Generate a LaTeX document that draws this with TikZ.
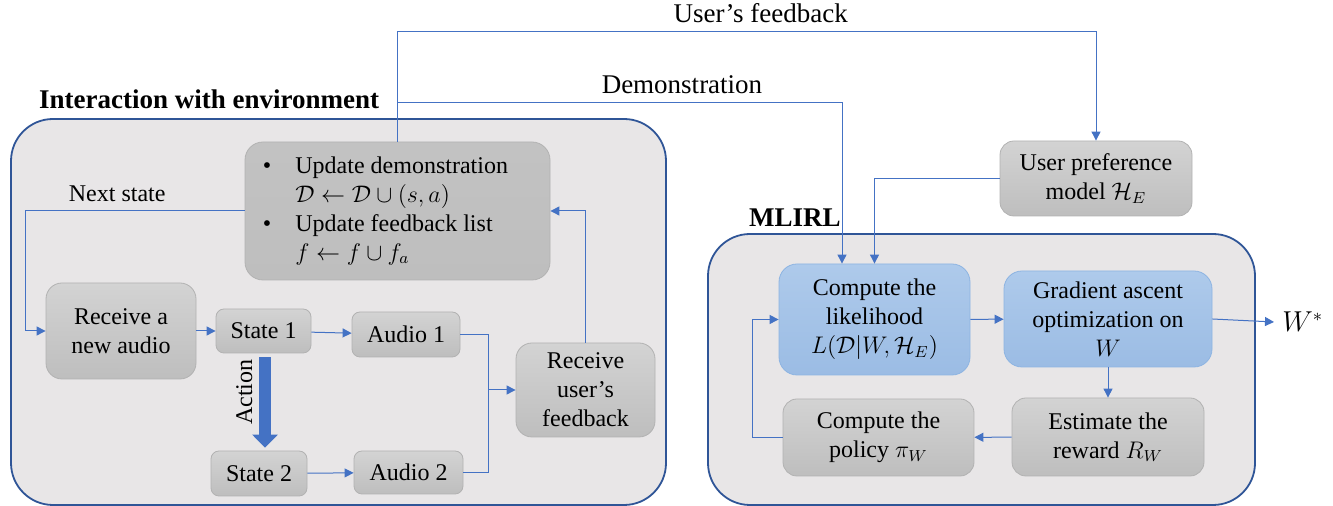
\documentclass[tikz,border=0pt]{standalone}
\usepackage{fontspec}
\setmainfont{Liberation Serif}
\usetikzlibrary{arrows.meta}
\definecolor{linkblue}{HTML}{4472C4}
\definecolor{frameblue}{HTML}{2F5597}
\definecolor{framefill}{HTML}{E8E6E7}
\definecolor{graytop}{HTML}{D3D3D3}
\definecolor{graybot}{HTML}{BEBEBE}
\definecolor{grayedge}{HTML}{B2B2B2}
\definecolor{bluetop}{HTML}{AECAEB}
\definecolor{bluebot}{HTML}{9BBCE4}
\definecolor{blueedge}{HTML}{8DB4E2}
\begin{document}
\begin{tikzpicture}[x=0.5pt,y=-0.5pt,
  every node/.style={font=\fontsize{12}{14.5}\selectfont},
  region/.style={draw=frameblue,fill=framefill,line width=0.9pt,rounded corners=21pt},
  graybox/.style={draw=grayedge,top color=graytop,bottom color=graybot,rounded corners=5pt,align=center,inner sep=1pt},
  bluebox/.style={graybox,draw=blueedge,top color=bluetop,bottom color=bluebot},
  link/.style={draw=linkblue,line width=0.5pt,-{Triangle[width=4.5pt,length=4.5pt]}},
  wire/.style={draw=linkblue,line width=0.5pt},
  action/.style={draw=linkblue,line width=6pt,-{Triangle[width=12.5pt,length=6.5pt]}},
  lbl/.style={font=\fontsize{13.5}{16}\selectfont},
  ttl/.style={font=\fontsize{13.5}{16}\selectfont\bfseries}]
\useasboundingbox (0,0) rectangle (1333,506);

% the two frames
\draw[region] (11,119) rectangle (666,505);
\draw[region] (708,234) rectangle (1255,505);
\node[ttl,anchor=base west] (envtitle) at (32,109) {Interaction with environment};
\node[ttl,anchor=base west] (mltitle) at (742,227) {MLIRL};

% interaction with environment
\node[graybox,minimum width=152.5pt,minimum height=69pt,rounded corners=9pt,top color=graytop!92!black,bottom color=graybot] (upd) at (397.5,211)
  {\begin{tabular}{@{}l@{\hspace{12pt}}l@{\hspace{12pt}}}
   \textbullet & Update demonstration\\
   & $\mathcal{D}\leftarrow\mathcal{D}\cup(s,a)$\\
   \textbullet & Update feedback list\\
   & $f\leftarrow f\cup f_a$
   \end{tabular}};
\node[graybox,minimum width=75pt,minimum height=48pt,rounded corners=8pt] (recv) at (121,331) {Receive a\\ new audio};
\node[graybox,minimum width=47.5pt,minimum height=22pt,rounded corners=4pt] (s1) at (263.5,331) {State 1};
\node[graybox,minimum width=54pt,minimum height=22.5pt,rounded corners=4pt] (a1) at (406,334.5) {Audio 1};
\node[graybox,minimum width=48pt,minimum height=22.5pt,rounded corners=4pt] (s2) at (259,473.5) {State 2};
\node[graybox,minimum width=54.5pt,minimum height=21.5pt,rounded corners=4pt] (a2) at (408.5,472.5) {Audio 2};
\node[graybox,minimum width=69.5pt,minimum height=47pt,rounded corners=8pt] (fb) at (585.5,390) {Receive\\ user's\\ feedback};
\coordinate (merge) at (488,390);

\draw[link] (upd.west) -- node[pos=0.58,above=1pt] {Next state} (25,211) |- (recv.west);
\draw[link] (recv) -- (s1);
\draw[link] (s1) -- (a1);
\draw[link] (s2) -- (a2);
\draw[wire] (a1.east) -| (merge);
\draw[wire] (a2.east) -| (merge);
\draw[link] (merge) -- (fb.west);
\draw[link] (fb.north) |- (upd.east);
\draw[action,shorten <=2pt,shorten >=1.5pt] ([xshift=0.75pt]s1.south) -- node[midway,above=5pt,rotate=90] {Action} ([xshift=0.75pt]s1.south |- s2.north);

% MLIRL
\node[graybox,minimum width=96pt,minimum height=37.5pt,rounded corners=7pt] (pref) at (1096,178.5) {User preference\\ model $\mathcal{H}_E$};
\node[bluebox,minimum width=95.5pt,minimum height=55.5pt,rounded corners=9pt] (lik) at (874.5,319.5) {Compute the\\ likelihood\\ $L(\mathcal{D}|W,\mathcal{H}_E)$};
\node[bluebox,minimum width=104pt,minimum height=48pt,rounded corners=9pt] (grad) at (1108,319) {Gradient ascent\\ optimization on\\ $W$};
\node[graybox,minimum width=96pt,minimum height=39pt,rounded corners=7pt] (est) at (1108,437) {Estimate the\\ reward $R_W$};
\node[graybox,minimum width=95.5pt,minimum height=38.5pt,rounded corners=7pt] (pol) at (878.5,437.5) {Compute the\\ policy $\pi_W$};
\node[lbl,anchor=west,inner sep=1pt] (wstar) at (1280,322) {$W^*$};

\draw[link] (lik) -- (grad);
\draw[link] (grad) -- (est);
\draw[link] (est) -- (pol);
\draw[link] (pol.west) -- (752,437.5) |- (lik.west);
\draw[link] (grad.east) -- ([xshift=-3pt]wstar.west);
\draw[link] (pref.west) -| (lik.north);

% links between the two parts
\coordinate (split) at (397.5,103);
\draw[link] (upd.north) -- ++(0,-110) -| node[pos=0.26,above=1pt,lbl] {User's feedback} (pref.north);
\draw[link] (split) -| node[pos=0.32,above=1pt,lbl] {Demonstration} ([xshift=-16.25pt]lik.north);
\end{tikzpicture}
\end{document}
